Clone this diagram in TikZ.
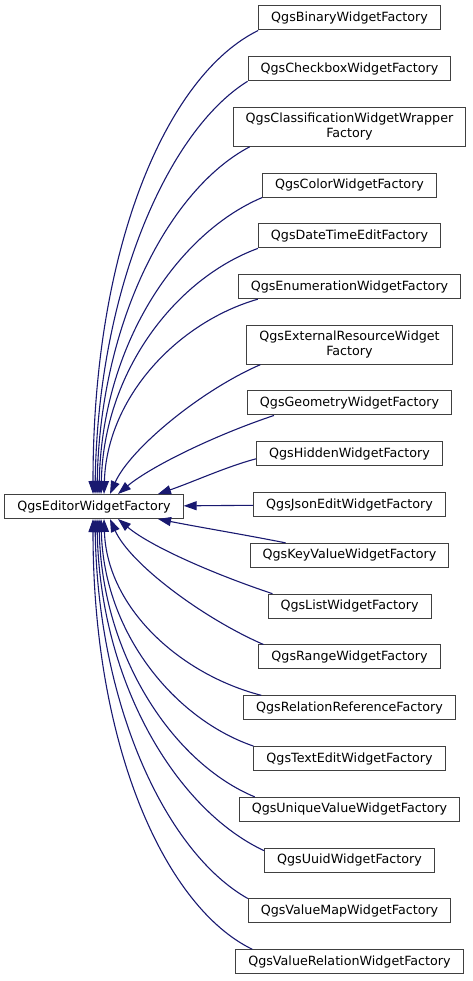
\documentclass[tikz,border=0pt]{standalone}
\usepackage{fontspec}
\setmainfont{DejaVu Sans}
\usepackage{xcolor}
\usepackage{tikz}
\usetikzlibrary{arrows.meta, positioning}

\definecolor{edgeblue}{RGB}{25,25,112}
\definecolor{boxgray}{RGB}{64,64,64}

\begin{document}
\begin{tikzpicture}[
  x=1pt, y=-1pt,
  node distance = 25.8pt,
  cls/.style  = {rectangle, draw=boxgray, fill=white, line width=1pt,
                 minimum height=24pt, inner xsep=12.5pt, inner ysep=5.7pt,
                 align=center, font=\fontsize{12.7}{15}\selectfont},
  arr/.style  = {-{Triangle[length=13pt, width=9pt]}, draw=edgeblue,
                 line width=1.1pt},
]
\useasboundingbox (0,0) rectangle (472,981);

% base class
\node[cls] (edit) at (94,506.5) {QgsEditorWidgetFactory};

% derived factories, one column
\node[cls, anchor=north] (bin) at (349.5,5.5) {QgsBinaryWidgetFactory};
\node[cls, below=of bin]  (chk)  {QgsCheckboxWidgetFactory};
\node[cls, below=of chk]  (clw)  {QgsClassificationWidgetWrapper\\Factory};
\node[cls, below=of clw]  (col)  {QgsColorWidgetFactory};
\node[cls, below=of col]  (dte)  {QgsDateTimeEditFactory};
\node[cls, below=of dte]  (enm)  {QgsEnumerationWidgetFactory};
\node[cls, below=of enm]  (ext)  {QgsExternalResourceWidget\\Factory};
\node[cls, below=of ext]  (geo)  {QgsGeometryWidgetFactory};
\node[cls, below=of geo]  (hid)  {QgsHiddenWidgetFactory};
\node[cls, below=of hid]  (jsn)  {QgsJsonEditWidgetFactory};
\node[cls, below=of jsn]  (kv)   {QgsKeyValueWidgetFactory};
\node[cls, below=of kv]   (lst)  {QgsListWidgetFactory};
\node[cls, below=of lst]  (rng)  {QgsRangeWidgetFactory};
\node[cls, below=of rng]  (rel)  {QgsRelationReferenceFactory};
\node[cls, below=of rel]  (txt)  {QgsTextEditWidgetFactory};
\node[cls, below=of txt]  (unq)  {QgsUniqueValueWidgetFactory};
\node[cls, below=of unq]  (uid)  {QgsUuidWidgetFactory};
\node[cls, below=of uid]  (vmap) {QgsValueMapWidgetFactory};
\node[cls, below=of vmap] (vrel) {QgsValueRelationWidgetFactory};

% inheritance edges (above the base)
\draw[arr] (bin.south west) .. controls +(-90,44) and +(0,-250) .. ([xshift=-1pt]edit.north);
\draw[arr] (chk.south west) .. controls +(-79,49) and +(3,-206) .. ([xshift=1pt]edit.north);
\draw[arr] ([xshift=17pt]clw.south west) .. controls +(-80,42) and +(3,-173) .. ([xshift=3pt]edit.north);
\draw[arr] (col.south west) .. controls +(-85,36) and +(3,-149) .. ([xshift=5pt]edit.north);
\draw[arr] (dte.south west) .. controls +(-82,30) and +(3,-123) .. ([xshift=7pt]edit.north);
\draw[arr] ([xshift=20pt]enm.south west) .. controls +(-80,23) and +(3,-97) .. ([xshift=10pt]edit.north);
\draw[arr] ([xshift=14pt]ext.south west) .. controls +(-60,26) and +(20,-45) .. ([xshift=16pt]edit.north);
\draw[arr] ([xshift=27pt]geo.south west) .. controls +(-60,20) and +(32,-27) .. ([xshift=24pt]edit.north);
\draw[arr] ([yshift=-5pt]hid.west) .. controls +(-30,8) and +(35,-12) .. ([xshift=64pt]edit.north);
\draw[arr] (jsn) -- (edit);

% inheritance edges (below the base)
\draw[arr] ([xshift=36pt]kv.north west) .. controls +(-40,-8) and +(40,8) .. ([xshift=64pt]edit.south);
\draw[arr] ([xshift=5pt]lst.north west) .. controls +(-60,-20) and +(32,27) .. ([xshift=24pt]edit.south);
\draw[arr] ([xshift=5pt]rng.north west) .. controls +(-60,-26) and +(20,45) .. ([xshift=16pt]edit.south);
\draw[arr] ([xshift=18pt]rel.north west) .. controls +(-81,-21) and +(3,89) .. ([xshift=10pt]edit.south);
\draw[arr] (txt.north west) .. controls +(-79,-27) and +(3,114) .. ([xshift=7pt]edit.south);
\draw[arr] ([xshift=16pt]unq.north west) .. controls +(-80,-33) and +(3,139) .. ([xshift=5pt]edit.south);
\draw[arr] ([yshift=-3pt]uid.north west) .. controls +(-86,-40) and +(3,166) .. ([xshift=3pt]edit.south);
\draw[arr] (vmap.north west) .. controls +(-80,-45) and +(3,190) .. ([xshift=1pt]edit.south);
\draw[arr] ([xshift=17pt]vrel.north west) .. controls +(-85,-41) and +(0,232) .. ([xshift=-1pt]edit.south);

\end{tikzpicture}
\end{document}
